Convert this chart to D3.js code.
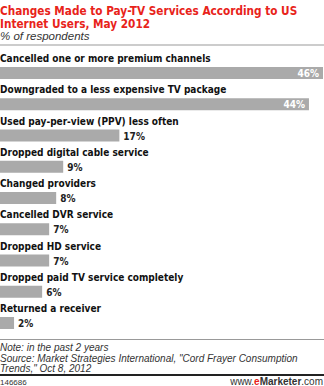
<!DOCTYPE html>
<html>
<head>
<meta charset="utf-8">
<script src="https://cdn.jsdelivr.net/npm/d3@7"></script>
<style>
  body { margin: 0; background: #fff; }
  svg { display: block; }
</style>
</head>
<body>
<svg id="chart"></svg>
<script>
const categories = [
  "Cancelled one or more premium channels",
  "Downgraded to a less expensive TV package",
  "Used pay-per-view (PPV) less often",
  "Dropped digital cable service",
  "Changed providers",
  "Cancelled DVR service",
  "Dropped HD service",
  "Dropped paid TV service completely",
  "Returned a receiver"
];
const values = [46, 44, 17, 9, 8, 7, 7, 6, 2];
const titleLines = [
  "Changes Made to Pay-TV Services According to US",
  "Internet Users, May 2012"
];
const subtitle = "% of respondents";
const noteLines = [
  "Note: in the past 2 years",
  "Source: Market Strategies International, \"Cord Frayer Consumption",
  "Trends,\" Oct 8, 2012"
];
const chartId = "146686";

const width = 324;
const height = 386;
const condensed = "'DejaVu Sans Condensed', 'DejaVu Sans', sans-serif";
const arial = "'Liberation Sans', Arial, sans-serif";

const svg = d3.select("#chart")
  .attr("width", width)
  .attr("height", height);

// header
svg.selectAll(".title")
  .data(titleLines)
  .join("text")
  .attr("class", "title")
  .attr("x", 0)
  .attr("y", (d, i) => 15 + i * 12.5)
  .attr("font-family", condensed)
  .attr("font-weight", "bold")
  .attr("font-size", 11.7)
  .attr("fill", "#e8231a")
  .text(d => d);

svg.append("text")
  .attr("x", 0)
  .attr("y", 39.5)
  .attr("font-family", arial)
  .attr("font-style", "italic")
  .attr("font-size", 11.5)
  .attr("fill", "#333")
  .text(subtitle);

svg.append("rect")
  .attr("x", 0)
  .attr("y", 44)
  .attr("width", width)
  .attr("height", 2)
  .attr("fill", "#cccccc");

// bars
const x = d3.scaleLinear().domain([0, 46]).range([0, 323]);
const y = d3.scaleBand().domain(categories).range([50, 331.25]);

const row = svg.selectAll(".row")
  .data(categories.map((c, i) => ({ cat: c, v: values[i] })))
  .join("g")
  .attr("class", "row")
  .attr("transform", d => `translate(0, ${y(d.cat)})`);

row.append("text")
  .attr("x", 0)
  .attr("y", 12)
  .attr("font-family", condensed)
  .attr("font-weight", "bold")
  .attr("font-size", 10)
  .attr("fill", "#111")
  .text(d => d.cat);

row.append("rect")
  .attr("x", 0)
  .attr("y", 17)
  .attr("width", d => x(d.v))
  .attr("height", 12)
  .attr("fill", "#aaaaaa");

row.append("text")
  .attr("x", d => d.v > 30 ? x(d.v) - 4 : x(d.v) + 4)
  .attr("y", 27)
  .attr("text-anchor", d => d.v > 30 ? "end" : "start")
  .attr("font-family", condensed)
  .attr("font-weight", "bold")
  .attr("font-size", 10)
  .attr("fill", d => d.v > 30 ? "#fff" : "#222")
  .text(d => d.v + "%");

// footer
svg.append("rect")
  .attr("x", 0)
  .attr("y", 339)
  .attr("width", width)
  .attr("height", 1)
  .attr("fill", "#999");

svg.selectAll(".note")
  .data(noteLines)
  .join("text")
  .attr("class", "note")
  .attr("x", 0)
  .attr("y", (d, i) => 351 + i * 10.5)
  .attr("font-family", arial)
  .attr("font-style", "italic")
  .attr("font-size", 10)
  .attr("fill", "#333")
  .text(d => d);

svg.append("rect")
  .attr("x", 0)
  .attr("y", 374)
  .attr("width", width)
  .attr("height", 2)
  .attr("fill", "#222");

svg.append("text")
  .attr("x", 0)
  .attr("y", 385)
  .attr("font-family", arial)
  .attr("font-size", 8)
  .attr("fill", "#333")
  .text(chartId);

const brand = svg.append("text")
  .attr("x", 323)
  .attr("y", 385)
  .attr("text-anchor", "end")
  .attr("font-family", arial)
  .attr("font-size", 10)
  .attr("fill", "#333");
brand.append("tspan").text("www.");
brand.append("tspan").attr("fill", "#e8231a").attr("font-weight", "bold").text("e");
brand.append("tspan").attr("font-weight", "bold").text("Marketer");
brand.append("tspan").text(".com");
</script>
</body>
</html>
